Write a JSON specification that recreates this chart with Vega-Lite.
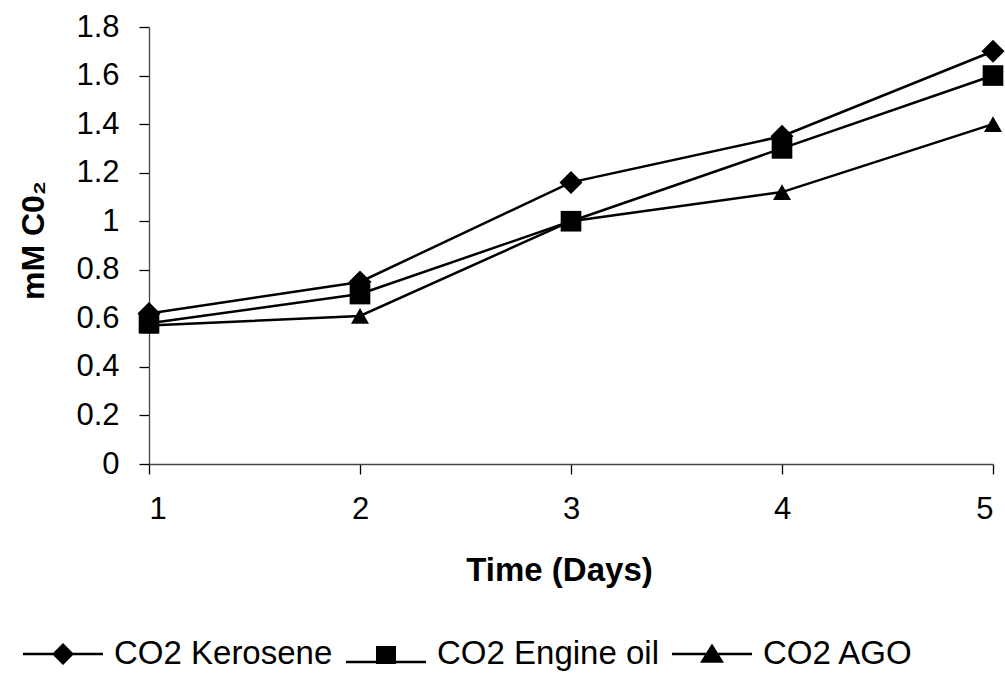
{
  "$schema": "https://vega.github.io/schema/vega-lite/v6.json",
  "width": 844,
  "height": 437,
  "autosize": {"type": "none"},
  "padding": {"left": 149, "top": 27, "right": 12, "bottom": 213},
  "background": "white",
  "config": {
    "view": {"stroke": null},
    "font": "Liberation Sans",
    "axis": {"grid": false, "labelFont": "Liberation Sans", "titleFont": "Liberation Sans", "labelColor": "black", "titleColor": "black", "domainColor": "#444", "tickColor": "black", "domainWidth": 1.3, "tickWidth": 1.3}
  },
  "data": {
    "values": [
      {"day": 1, "series": "CO2 Kerosene", "value": 0.62},
      {"day": 2, "series": "CO2 Kerosene", "value": 0.75},
      {"day": 3, "series": "CO2 Kerosene", "value": 1.16},
      {"day": 4, "series": "CO2 Kerosene", "value": 1.35},
      {"day": 5, "series": "CO2 Kerosene", "value": 1.70},
      {"day": 1, "series": "CO2 Engine oil", "value": 0.58},
      {"day": 2, "series": "CO2 Engine oil", "value": 0.70},
      {"day": 3, "series": "CO2 Engine oil", "value": 1.0},
      {"day": 4, "series": "CO2 Engine oil", "value": 1.30},
      {"day": 5, "series": "CO2 Engine oil", "value": 1.60},
      {"day": 1, "series": "CO2 AGO", "value": 0.57},
      {"day": 2, "series": "CO2 AGO", "value": 0.61},
      {"day": 3, "series": "CO2 AGO", "value": 1.0},
      {"day": 4, "series": "CO2 AGO", "value": 1.12},
      {"day": 5, "series": "CO2 AGO", "value": 1.40}
    ]
  },
  "encoding": {
    "x": {
      "field": "day", "type": "quantitative",
      "scale": {"domain": [1, 5], "nice": false, "zero": false},
      "axis": {"values": [1, 2, 3, 4, 5], "format": "d", "title": "Time (Days)", "labelFontSize": 31, "labelPadding": 20, "tickSize": 10, "titleFontSize": 33, "titleFontWeight": "bold", "titleX": 410, "titleY": 106, "titleBaseline": "middle"}
    },
    "y": {
      "field": "value", "type": "quantitative",
      "scale": {"domain": [0, 1.8], "nice": false},
      "axis": {"values": [0, 0.2, 0.4, 0.6, 0.8, 1, 1.2, 1.4, 1.6, 1.8], "format": ".1~f", "title": "mM C0₂", "labelFontSize": 31, "labelPadding": 20, "tickSize": 10, "titleFontSize": 32, "titleFontWeight": "bold", "titleX": -116, "titleY": 213, "titleAngle": -90, "titleBaseline": "middle"}
    }
  },
  "layer": [
    {
      "mark": {"type": "line", "color": "black", "strokeWidth": 2.5},
      "encoding": {"detail": {"field": "series"}}
    },
    {
      "mark": {"type": "point", "filled": true, "color": "black", "opacity": 1},
      "encoding": {
        "shape": {"field": "series", "type": "nominal", "scale": {"domain": ["CO2 Kerosene", "CO2 Engine oil", "CO2 AGO"], "range": ["diamond", "square", "triangle-up"]}, "legend": null},
        "size": {"field": "series", "type": "nominal", "scale": {"domain": ["CO2 Kerosene", "CO2 Engine oil", "CO2 AGO"], "range": [529, 324, 361]}, "legend": null}
      }
    },
    {
      "transform": [{"filter": "datum.day > 99"}],
      "mark": {"type": "point", "filled": true, "color": "black"},
      "encoding": {
        "shape": {
          "field": "series", "type": "nominal",
          "scale": {"domain": ["CO2 Kerosene", "CO2 Engine oil", "CO2 AGO"], "range": ["M-1,-0.032H1V0.032H-1ZM-0.275,0L0,-0.275L0.275,0L0,0.275Z", "M-1,0.17H1V0.23H-1ZM-0.25,-0.2H0.25V0.25H-0.25Z", "M-1,-0.032H1V0.032H-1ZM0,-0.26L0.3,0.22H-0.3Z"]},
          "legend": {"title": null, "orient": "none", "direction": "horizontal", "legendX": -127, "legendY": 586, "symbolSize": 6400, "symbolFillColor": "black", "symbolOpacity": 1, "labelFontSize": 33, "labelFont": "Liberation Sans", "labelColor": "black", "labelOffset": 10, "columnPadding": 10, "labelLimit": 400}
        }
      }
    }
  ],
  "resolve": {"scale": {"shape": "independent", "size": "independent"}, "legend": {"shape": "independent"}}
}
